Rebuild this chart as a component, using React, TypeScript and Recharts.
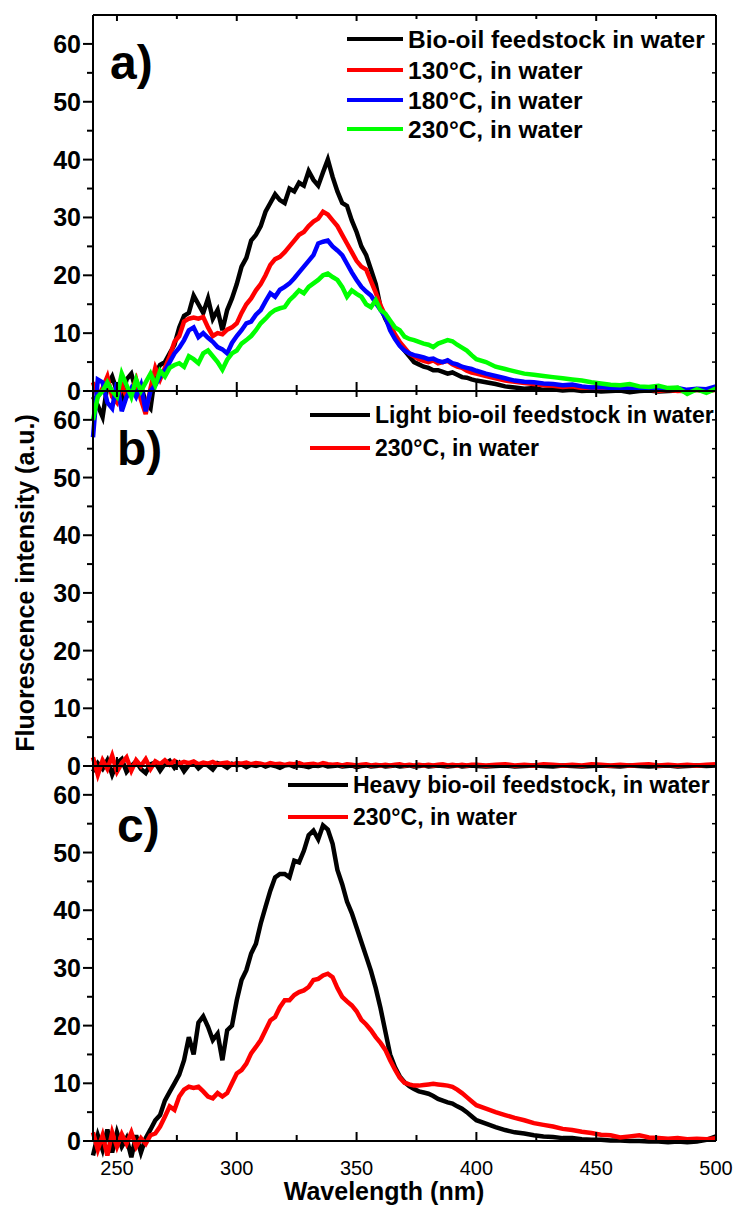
import { LineChart, Line, XAxis, YAxis } from "recharts";

const FONT = '"Liberation Sans", Arial, sans-serif';

// wavelength grid (nm): 2 nm steps up to 400, then 4 nm
const wavelengths = [
  240, 242, 244, 246, 248, 250, 252, 254, 256, 258, 260, 262, 264, 266, 268, 270, 272, 274, 276, 278,
  280, 282, 284, 286, 288, 290, 292, 294, 296, 298, 300, 302, 304, 306, 308, 310, 312, 314, 316, 318,
  320, 322, 324, 326, 328, 330, 332, 334, 336, 338, 340, 342, 344, 346, 348, 350, 352, 354, 356, 358,
  360, 362, 364, 366, 368, 370, 372, 374, 376, 378, 380, 382, 384, 386, 388, 390, 392, 394, 396, 398,
  400, 404, 408, 412, 416, 420, 424, 428, 432, 436, 440, 444, 448, 452, 456, 460, 464, 468, 472, 476,
  480, 484, 488, 492, 496, 500,
];

// panel a
const aFeed = [
  -1, -2.5, -4.5, 1, 2.5, 0, -1.5, 2, 3, 0, 1, -2, -3, 3, 4.5, 5, 6.5, 8, 11, 13,
  13.5, 16.5, 15, 13.5, 16, 12.5, 14, 10.5, 14, 16, 18.5, 21.5, 23, 26, 27, 28.5, 31, 32.5, 34, 33,
  32.5, 35, 34.5, 36, 35.5, 38, 36.5, 35.5, 37.8, 40, 37, 34.5, 32.5, 32, 29.5, 27.5, 25, 23.5, 21, 18.5,
  14.5, 12.5, 11, 9.5, 8, 7, 6, 5, 4.6, 4.2, 4, 3.6, 3.6, 3.3, 3, 3.2, 2.8, 2.4, 2.3, 2,
  1.8, 1.5, 1.2, 0.8, 0.6, 0.4, 0.5, 0.2, 0.3, 0.1, 0.2, 0, 0.1, -0.1, 0, 0.1, -0.2, 0, 0.1, -0.1,
  0, 0.1, -0.1, 0.2, 0, 0.3,
];
const a130 = [
  1.5, -1, 0.5, 2.5, -1, -2, 1, -1, 0, 2, -1.5, -4, 0.5, 4, 2, 4, 6, 8.5, 9.5, 12,
  12.5, 12.7, 12.5, 12.8, 11, 9.5, 10, 9.8, 10.6, 11, 11.7, 13.5, 15, 16, 17.4, 18.5, 20, 21.8, 22.8, 23.2,
  24, 25, 26, 27, 27.5, 28.5, 29.3, 29.8, 31, 30.5, 29.5, 28.5, 27, 25.5, 24, 22.5, 21.5, 21, 19, 17,
  14.8, 13, 11.5, 9.8, 8.5, 7.5, 6.5, 6, 5.5, 5.2, 5, 5.3, 4.8, 5, 5.2, 4.6, 4.2, 4, 3.5, 3.2,
  3, 2.6, 2.2, 1.8, 1.6, 1.4, 1.2, 1.0, 0.9, 0.7, 0.8, 0.5, 0.6, 0.4, 0.5, 0.3, 0.4, 0.2, 0.3, 0,
  0.2, 0, 0.1, 0.2, -0.1, 0.2,
];
const a180 = [
  -8, 2, 1.5, -2, -3, 1.5, -3.5, -1, 0.5, -1, 1, -3.5, 0, 1, 2.5, 3.5, 5, 6.5, 7.5, 8.8,
  10.5, 11, 9.3, 10, 9.2, 8.5, 7.6, 7.2, 6.5, 8.3, 9.5, 10.5, 11.7, 12, 13.2, 14, 15.5, 16.9, 16.3, 17.5,
  18, 18.6, 19.5, 20.5, 21.5, 22.5, 23.5, 25.5, 25.8, 26, 25, 24.3, 23.5, 22, 20.5, 19.2, 18, 17.2, 16.5, 15.2,
  14, 12.8, 10.5, 9, 7.8, 7, 6.5, 6.2, 6, 5.8, 5.5, 5.6, 5.2, 5, 5.3, 4.8, 4.6, 4.2, 4, 3.8,
  3.5, 3, 2.6, 2.2, 1.8, 1.6, 1.5, 1.3, 1.2, 1.0, 1.1, 0.8, 0.6, 0.7, 0.5, 0.6, 0.4, 0.5, 0.3, 0.4,
  0.3, 0.5, 0.2, 0.4, 0.3, 0.8,
];
const a230 = [
  -5, -1, 0, 1.5, 0, -1, 3, 1, -1, 2, 0, 1.5, 3, 1, 3.5, 2.5, 4, 4.5, 4.8, 4.2,
  6, 5.5, 4.8, 6.5, 7, 6, 5, 3.7, 5.4, 6.5, 7, 8.2, 8.8, 9.5, 10.5, 11.7, 12.5, 13.4, 14, 14.3,
  14.5, 15.7, 16.5, 17.4, 16.9, 18, 18.6, 19.2, 20, 20.3, 19.7, 19.2, 18, 16.3, 17.4, 16.8, 16.3, 15, 14.5, 15.7,
  14, 13.4, 12.2, 11, 10.5, 9.4, 9, 8.8, 8.5, 8.2, 8, 7.6, 8.2, 8.5, 8.8, 8.6, 8, 7.5, 7, 6.2,
  5.5, 5, 4.2, 3.8, 3.4, 3, 2.8, 2.6, 2.4, 2.2, 2, 1.8, 1.5, 1.3, 1.1, 1, 1.2, 0.8, 0.7, 0.9,
  0.5, 0.6, -0.5, 0.3, -0.3, 0.4,
];

// panel b
const bLight = [
  -1, 0.5, -0.5, 1, -1.5, 0.5, 1.2, -1, 0, 0.8, -0.5, -1.2, 0.3, 0.6, -0.8, 0.4, 0.9, -0.3, 0.5, -0.9,
  0.2, 0.6, -0.4, 0.3, 0.1, -0.6, 0.5, 0.2, -0.3, 0.4, 0.1, 0.3, -0.2, 0.2, 0, 0.3, -0.1, 0.2, 0, -0.3,
  0.1, 0.2, -0.1, 0.1, 0, -0.2, 0.1, 0, 0.2, -0.1, 0, 0.1, -0.1, 0, 0.1, -0.2, 0, 0.1, -0.1, 0,
  0.1, -0.1, 0, 0.1, -0.1, 0, 0.1, -0.1, 0, 0.1, -0.1, 0, 0.1, 0, -0.1, 0, 0.1, -0.1, 0, 0.1,
  0, -0.1, 0, 0.1, -0.1, 0, 0.1, 0, -0.1, 0.1, 0, -0.1, 0, 0.1, 0, -0.1, 0.1, 0, -0.1, 0,
  0.1, -0.1, 0, 0.1, 0, 0.1,
];
const bLight230 = [
  1.5, -1.5, 1, -0.5, 1.8, -1, 0.5, 1.5, -0.8, 1, 0, 1.2, -0.5, 0.8, 0.3, 1, 0.2, 0.9, 0.4, 0.7,
  0.5, 0.8, 0.3, 0.6, 0.4, 0.7, 0.3, 0.5, 0.6, 0.2, 0.5, 0.4, 0.6, 0.3, 0.5, 0.4, 0.2, 0.5, 0.3, 0.4,
  0.2, 0.4, 0.3, 0.5, 0.2, 0.3, 0.4, 0.2, 0.5, 0.3, 0.2, 0.3, 0.1, 0.3, 0.2, 0.1, 0.2, 0.3, 0.1, 0.2,
  0.1, 0.2, 0.1, 0.2, 0.3, 0.1, 0.2, 0.1, 0.2, 0.1, 0.2, 0.1, 0.2, 0.3, 0.1, 0.2, 0.1, 0.2, 0.1, 0.2,
  0.2, 0.1, 0.2, 0.3, 0.1, 0.2, 0.1, 0.3, 0.2, 0.1, 0.2, 0.1, 0.3, 0.2, 0.1, 0.2, 0.1, 0.2, 0.3, 0.1,
  0.2, 0.1, 0.2, 0.1, 0.2, 0.3,
];

// panel c
const cHeavy = [
  -2.5, 1, -1.5, 2, -2, 1.5, -1, 0.5, -2.8, 1, -2, 0.5, 2, 3.6, 4.5, 7, 8.5, 10, 11.5, 14,
  18, 15, 20.5, 21.6, 19.8, 17.5, 18.6, 14, 19.2, 20, 24.4, 27.9, 29.6, 32.5, 34.2, 37.7, 40.6, 43.4, 45.7, 46.3,
  46.3, 45.7, 48.6, 48.3, 50.3, 53, 53.8, 52.3, 54.7, 54, 51.5, 47, 44.5, 41.5, 39.5, 37, 34.5, 32, 29.5, 26.5,
  23, 19, 15, 12.8, 11.2, 10.2, 9.5, 9, 8.6, 8.4, 8.2, 7.8, 7.3, 7, 6.7, 6.5, 6, 5.6, 5, 4.3,
  3.6, 3.0, 2.4, 1.9, 1.5, 1.3, 1.0, 0.8, 0.7, 0.5, 0.5, 0.3, 0.2, 0.2, 0.1, 0.1, 0, 0, -0.1, -0.1,
  -0.2, -0.1, -0.2, -0.1, 0.2, 0.8,
];
const cHeavy230 = [
  1.5, -1.5, 1, -2.5, 1.5, -1, 1.2, -0.5, 1.5, -1, 0.5, -0.5, 1, 1.3, 2.5, 4.2, 6, 5.4, 7.7, 8.9,
  9.4, 9.2, 9.4, 8.6, 7.7, 7.4, 8.3, 7.7, 8.3, 10, 11.7, 12.3, 13.4, 15.2, 16.3, 17.5, 19.2, 20.9, 21.5, 23.2,
  24.4, 24.4, 25.3, 25.8, 26.1, 26.7, 27.9, 28.1, 28.7, 29, 28.4, 26.5, 25, 24.2, 23.5, 22.5, 21, 20.2, 19.2, 18,
  17, 15.8, 14, 12.4, 11, 10.1, 9.8, 9.6, 9.6, 9.7, 9.8, 9.9, 9.8, 9.7, 9.6, 9.4, 8.9, 8.3, 7.6, 6.9,
  6.2, 5.6, 5.0, 4.5, 4.0, 3.6, 3.1, 2.8, 2.5, 2.1, 1.9, 1.6, 1.4, 1.1, 1.0, 0.6, 0.8, 1.0, 0.6, 0.5,
  0.4, 0.5, 0.3, 0.4, 0.3, 0.5,
];

const xTicks = [250, 275, 300, 325, 350, 375, 400, 425, 450, 475, 500];
const yTicks = [0, 5, 10, 15, 20, 25, 30, 35, 40, 45, 50, 55, 60];

type Series = { name: string; color: string; values: number[] };

const panelA: Series[] = [
  { name: "Bio-oil feedstock in water", color: "#000000", values: aFeed },
  { name: "130°C, in water", color: "#ff0000", values: a130 },
  { name: "180°C, in water", color: "#0000ff", values: a180 },
  { name: "230°C, in water", color: "#00ff00", values: a230 },
];
const panelB: Series[] = [
  { name: "Light bio-oil feedstock in water", color: "#000000", values: bLight },
  { name: "230°C, in water", color: "#ff0000", values: bLight230 },
];
const panelC: Series[] = [
  { name: "Heavy bio-oil feedstock, in water", color: "#000000", values: cHeavy },
  { name: "230°C, in water", color: "#ff0000", values: cHeavy230 },
];

const axisLine = { stroke: "#000", strokeWidth: 2 };

// axes get a 1px size (0 makes recharts skip them), margins compensate
function Panel(props: {
  top: number;
  height: number;
  plotTop: number;
  plotHeight: number;
  series: Series[];
  showXLabels?: boolean;
}) {
  const { top, height, plotTop, plotHeight, series, showXLabels } = props;
  const rows = wavelengths.map((w, i) => {
    const r: Record<string, number> = { w };
    series.forEach((s, k) => (r["s" + k] = s.values[i]));
    return r;
  });
  return (
    <div style={{ position: "absolute", left: 0, top, width: 733, height }}>
      <LineChart
        width={733}
        height={height}
        data={rows}
        margin={{ top: plotTop - 1, right: 16, bottom: height - plotTop - plotHeight - 1, left: 92 }}
      >
        <XAxis
          xAxisId="b"
          dataKey="w"
          type="number"
          domain={[240, 500]}
          ticks={xTicks}
          interval={0}
          height={1}
          tickSize={0}
          tickMargin={0}
          tickLine={false}
          axisLine={axisLine}
          tick={(p: any) => {
            const major = p.payload.value % 50 === 0;
            return (
              <g>
                <line x1={p.x} x2={p.x} y1={p.y} y2={p.y - (major ? 9 : 6)} stroke="#000" strokeWidth={2} />
                {showXLabels && major && (
                  <text x={p.x} y={p.y + 34} textAnchor="middle" fontSize={20} fontFamily={FONT} fill="#000">
                    {p.payload.value}
                  </text>
                )}
              </g>
            );
          }}
        />
        <XAxis
          xAxisId="t"
          orientation="top"
          dataKey="w"
          type="number"
          domain={[240, 500]}
          ticks={xTicks}
          interval={0}
          height={1}
          tickSize={0}
          tickMargin={0}
          tickLine={false}
          axisLine={axisLine}
          tick={(p: any) => (
            <line x1={p.x} x2={p.x} y1={p.y} y2={p.y + (p.payload.value % 50 === 0 ? 6 : 4)} stroke="#000" strokeWidth={2} />
          )}
        />
        <YAxis
          yAxisId="l"
          type="number"
          domain={[0, 65]}
          allowDataOverflow
          ticks={yTicks}
          interval={0}
          width={1}
          tickSize={0}
          tickMargin={0}
          tickLine={false}
          axisLine={axisLine}
          tick={(p: any) => {
            const major = p.payload.value % 10 === 0;
            return (
              <g>
                <line x1={p.x} x2={p.x - (major ? 10 : 6)} y1={p.y} y2={p.y} stroke="#000" strokeWidth={2} />
                {major && (
                  <text x={p.x - 12} y={p.y} dy="0.36em" textAnchor="end" fontSize={25} fontWeight="bold" fontFamily={FONT} fill="#000">
                    {p.payload.value}
                  </text>
                )}
              </g>
            );
          }}
        />
        <YAxis
          yAxisId="r"
          orientation="right"
          type="number"
          domain={[0, 65]}
          allowDataOverflow
          ticks={yTicks}
          interval={0}
          width={1}
          tickSize={0}
          tickMargin={0}
          tickLine={false}
          axisLine={axisLine}
          tick={(p: any) => <line x1={p.x} x2={p.x - 4} y1={p.y} y2={p.y} stroke="#000" strokeWidth={1.5} />}
        />
        {series.map((s, k) => (
          <Line
            key={s.name + k}
            xAxisId="b"
            yAxisId="l"
            type="linear"
            dataKey={"s" + k}
            name={s.name}
            stroke={s.color}
            strokeWidth={4.5}
            dot={false}
            isAnimationActive={false}
          />
        ))}
      </LineChart>
    </div>
  );
}

function LegendBlock(props: { series: Series[]; x1: number; x2: number; rows: number[]; fontSize: number }) {
  const { series, x1, x2, rows, fontSize } = props;
  return (
    <g>
      {series.map((s, k) => (
        <g key={k}>
          <line x1={x1} x2={x2} y1={rows[k]} y2={rows[k]} stroke={s.color} strokeWidth={4} />
          <text x={x2 + 5} y={rows[k]} dy="0.36em" fontSize={fontSize} fontWeight="bold" fontFamily={FONT} fill="#000">
            {s.name}
          </text>
        </g>
      ))}
    </g>
  );
}

export default function App() {
  return (
    <div style={{ position: "absolute", left: 0, top: 0, width: 733, height: 1205, background: "#fff" }}>
      <style>{`.recharts-surface [clip-path]{clip-path:none !important}`}</style>
      <Panel top={0} height={440} plotTop={15} plotHeight={376} series={panelA} />
      <Panel top={391} height={424} plotTop={0} plotHeight={375} series={panelB} />
      <Panel top={766} height={439} plotTop={0} plotHeight={375} series={panelC} showXLabels />
      <svg width={733} height={1205} style={{ position: "absolute", left: 0, top: 0, pointerEvents: "none" }}>
        <text x={110} y={79} fontSize={48} fontWeight="bold" fontFamily={FONT}>a)</text>
        <text x={117} y={465} fontSize={48} fontWeight="bold" fontFamily={FONT}>b)</text>
        <text x={117} y={842} fontSize={48} fontWeight="bold" fontFamily={FONT}>c)</text>
        <LegendBlock series={panelA} x1={347} x2={403} rows={[39, 70, 100, 129]} fontSize={24.5} />
        <LegendBlock series={panelB} x1={310} x2={370} rows={[415, 448]} fontSize={23} />
        <LegendBlock series={panelC} x1={288} x2={348} rows={[785, 817]} fontSize={23} />
        <text x={384} y={1200} textAnchor="middle" fontSize={25} fontWeight="bold" fontFamily={FONT}>
          Wavelength (nm)
        </text>
        <text transform="translate(34,583) rotate(-90)" textAnchor="middle" fontSize={25} fontWeight="bold" fontFamily={FONT}>
          Fluorescence intensity (a.u.)
        </text>
      </svg>
    </div>
  );
}
